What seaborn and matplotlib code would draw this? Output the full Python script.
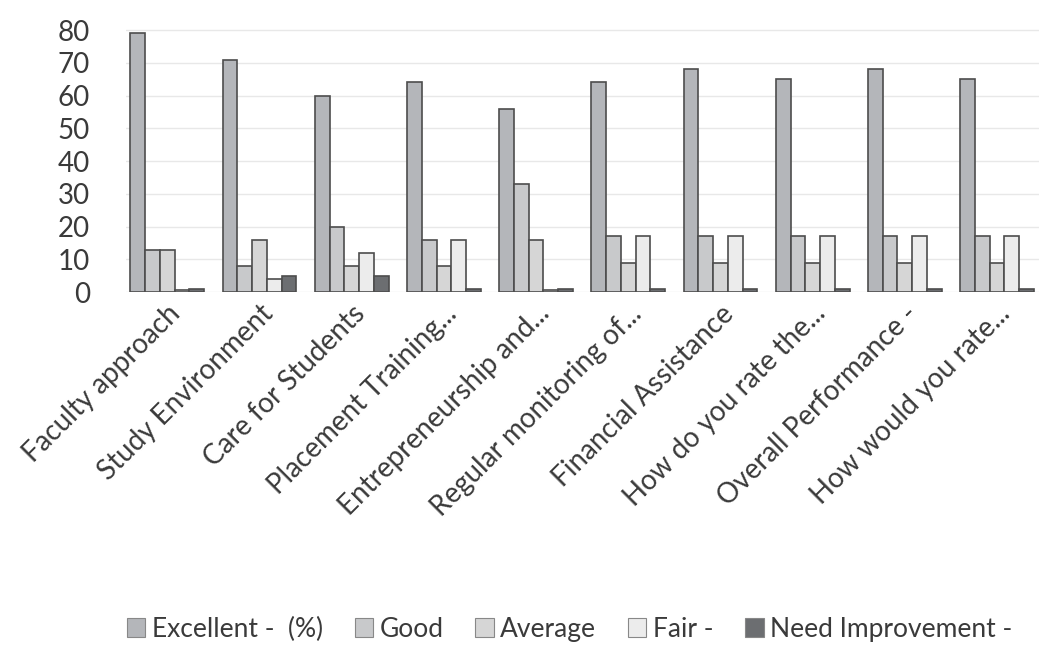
import matplotlib
matplotlib.use("Agg")
import matplotlib.pyplot as plt
import numpy as np
import pandas as pd
import seaborn as sns

# Datos (porcentajes)
categories = [
    "Faculty approach",
    "Study Environment",
    "Care for Students",
    "Placement Training...",
    "Entrepreneurship and...",
    "Regular monitoring of...",
    "Financial Assistance",
    "How do you rate the...",
    "Overall Performance -",
    "How would you rate...",
]
series_names = ["Excellent -  (%)", "Good", "Average", "Fair -", "Need Improvement -"]
excellent = [79, 71, 60, 64, 56, 64, 68, 65, 68, 65]
good = [13, 8, 20, 16, 33, 17, 17, 17, 17, 17]
average = [13, 16, 8, 8, 16, 9, 9, 9, 9, 9]
fair = [0.5, 4, 12, 16, 0.5, 17, 17, 17, 17, 17]
need_improvement = [1, 5, 5, 1, 1, 1, 1, 1, 1, 1]
y_ticks = [0, 10, 20, 30, 40, 50, 60, 70, 80]

PALETTE = ["#b4b6ba", "#c8c9cb", "#d6d6d6", "#ececec", "#6c6e71"]

df = pd.DataFrame({
    "category": np.tile(categories, len(series_names)),
    "series": np.repeat(series_names, len(categories)),
    "value": excellent + good + average + fair + need_improvement,
})

sns.set_style("white")
plt.rcParams["font.family"] = ["Lato", "DejaVu Sans"]

fig = plt.figure(figsize=(10.49, 6.52), dpi=100)
ax = fig.add_axes([0.12, 0.552, 0.87, 0.427])

sns.barplot(
    data=df, x="category", y="value", hue="series",
    order=categories, hue_order=series_names, palette=PALETTE,
    width=0.8, saturation=1, edgecolor="#4d4d4d", linewidth=1.2,
    errorbar=None, ax=ax, legend=False,
)

ax.set_ylim(0, 85)
ax.set_yticks(y_ticks)
ax.tick_params(axis="y", labelsize=20, length=0, colors="#3a3a3a", pad=26)
ax.tick_params(axis="x", length=0, pad=6)
ax.set_xticks(range(len(categories)))
ax.set_xticklabels(categories, rotation=45, ha="right", rotation_mode="anchor",
                   fontsize=20, color="#3a3a3a")
ax.set_xlabel("")
ax.set_ylabel("")
ax.yaxis.grid(True, color="#e8e8e8", linewidth=1)
ax.set_axisbelow(True)
for side in ["top", "right", "left", "bottom"]:
    ax.spines[side].set_visible(False)
ax.set_xlim(-0.45, len(categories) - 0.55)

handles = [plt.Rectangle((0, 0), 1, 1, facecolor=c, edgecolor="#888888", linewidth=0.8)
           for c in PALETTE]
fig.legend(handles, series_names, loc="center", bbox_to_anchor=(0.543, 0.035),
           ncol=5, frameon=False, fontsize=19, handlelength=0.7, handleheight=0.7,
           handletextpad=0.25, columnspacing=1.2, labelcolor="#3a3a3a")

fig.savefig("out.png", dpi=100)
plt.close(fig)
